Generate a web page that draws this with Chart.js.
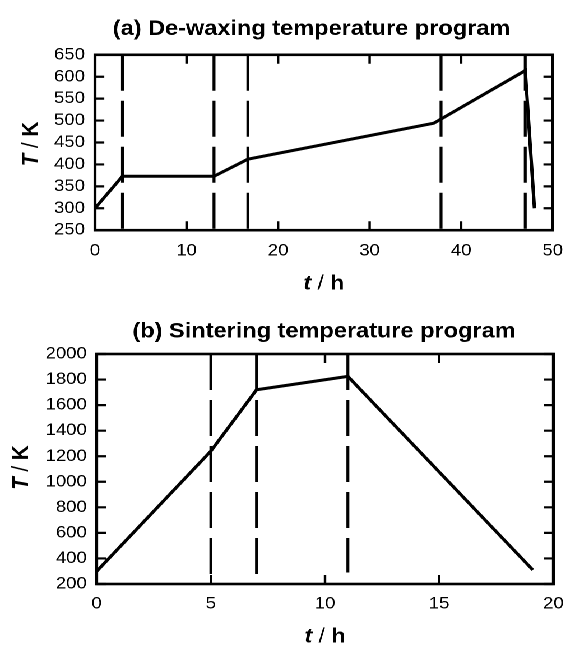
<!DOCTYPE html>
<html><head><meta charset="utf-8">
<script src="https://cdn.jsdelivr.net/npm/chart.js@4"></script>
<style>
html,body{margin:0;padding:0;background:#fff;overflow:hidden;width:575px;height:647px}
#wrap{position:absolute;left:0;top:0;width:513px;height:647px;transform-origin:0 0;transform:scaleX(1.12086)}
canvas{position:absolute;left:0}
#ca{top:0}
#cb{top:305px}
</style></head><body>
<div id="wrap"><canvas id="ca" width="513" height="305"></canvas><canvas id="cb" width="513" height="342"></canvas></div>
<script>
// ---- (a) De-waxing temperature program ----
const dewaxTime = [0, 3, 13, 16.7, 37, 47, 48];
const dewaxTemp = [300, 373, 373, 412, 494, 614, 300];
const dewaxStageTimes = [3, 13, 16.7, 37.8, 47];
const dewaxStageLow = [250, 250, 250, 250, 250];
const dewaxXTicks = [0, 10, 20, 30, 40, 50];
const dewaxYTicks = [250, 300, 350, 400, 450, 500, 550, 600, 650];

// ---- (b) Sintering temperature program ----
const sinterTime = [0, 5, 7, 11, 19.1];
const sinterTemp = [300, 1240, 1720, 1825, 310];
const sinterStageTimes = [5, 7, 11];
const sinterStageLow = [200, 200, 290];
const sinterXTicks = [0, 5, 10, 15, 20];
const sinterYTicks = [200, 400, 600, 800, 1000, 1200, 1400, 1600, 1800, 2000];

const FONT = '"Liberation Sans", Arial, Helvetica, sans-serif';

function drawMixed(ctx, parts, cx, cy, rot) {
  ctx.save();
  ctx.translate(cx, cy);
  ctx.rotate(rot);
  ctx.textBaseline = 'middle';
  ctx.textAlign = 'left';
  let total = 0;
  const w = parts.map(p => { ctx.font = p.f; const m = ctx.measureText(p.t).width; total += m; return m; });
  let x = -total / 2;
  parts.forEach((p, i) => { ctx.font = p.f; ctx.fillText(p.t, x, 0); x += w[i]; });
  ctx.restore();
}

const framePlugin = {
  id: 'frame',
  afterDraw(chart, args, o) {
    const ctx = chart.ctx, a = chart.chartArea, xs = chart.scales.x, ys = chart.scales.y;
    ctx.save();
    ctx.strokeStyle = '#000';
    ctx.lineWidth = o.tickWidth;
    ctx.beginPath();
    xs.ticks.forEach(t => {
      const p = xs.getPixelForValue(t.value);
      ctx.moveTo(p, a.bottom); ctx.lineTo(p, a.bottom - o.xTickLen);
      ctx.moveTo(p, a.top); ctx.lineTo(p, a.top + o.xTickLen);
    });
    ys.ticks.forEach(t => {
      const p = ys.getPixelForValue(t.value);
      ctx.moveTo(a.left, p); ctx.lineTo(a.left + o.yTickLen, p);
      ctx.moveTo(a.right, p); ctx.lineTo(a.right - o.yTickLen, p);
    });
    ctx.stroke();
    ctx.lineWidth = o.borderWidth;
    ctx.strokeRect(a.left, a.top, a.right - a.left, a.bottom - a.top);
    ctx.fillStyle = '#000';
    ctx.font = 'bold 21px ' + FONT;
    ctx.textAlign = 'center';
    ctx.textBaseline = 'alphabetic';
    ctx.fillText(o.title, (a.left + a.right) / 2 + o.titleDx, o.titleBaseline);
    const bi = 'italic bold 20.5px ' + FONT, r = '20.5px ' + FONT, b = 'bold 20.5px ' + FONT;
    drawMixed(ctx, [{t: 't', f: bi}, {t: ' / ', f: r}, {t: 'h', f: b}], (a.left + a.right) / 2, o.xTitleY, 0);
    drawMixed(ctx, [{t: 'T', f: bi}, {t: ' / ', f: r}, {t: 'K', f: b}], o.yTitleX, (a.top + a.bottom) / 2 + o.yTitleDy, -Math.PI / 2);
    ctx.restore();
  }
};

function makeChart(id, p) {
  const datasets = [{
    data: p.time.map((t, i) => ({x: t, y: p.temp[i]})),
    borderColor: '#000', borderWidth: 3, pointRadius: 0, tension: 0, borderCapStyle: 'butt'
  }];
  p.stages.forEach((t, i) => {
    datasets.push({
      data: [{x: t, y: p.yTicks[p.yTicks.length - 1]}, {x: t, y: p.stageLow[i]}],
      borderColor: '#000', borderWidth: 2.6, borderDash: [36, 10], pointRadius: 0, borderCapStyle: 'butt'
    });
  });
  return new Chart(document.getElementById(id), {
    type: 'line',
    data: {datasets},
    plugins: [framePlugin],
    options: {
      responsive: false,
      devicePixelRatio: 2,
      animation: false,
      layout: {padding: {top: p.padTop, left: 0, right: p.padRight, bottom: p.padBottom}},
      plugins: {
        legend: {display: false},
        tooltip: {enabled: false},
        title: {display: false},
        frame: {
          title: p.title, titleDx: p.titleDx, titleBaseline: p.titleBaseline,
          xTitleY: p.xTitleY, yTitleX: p.yTitleX, yTitleDy: p.yTitleDy,
          xTickLen: 9, yTickLen: 8.3, tickWidth: 2.2, borderWidth: 2.6
        }
      },
      scales: {
        x: {
          type: 'linear', position: 'bottom',
          min: p.xTicks[0], max: p.xTicks[p.xTicks.length - 1],
          afterBuildTicks: s => { s.ticks = p.xTicks.map(v => ({value: v})); },
          afterFit: s => { s.height = p.xAxisH; },
          grid: {display: false, drawTicks: false},
          border: {display: false},
          ticks: {color: '#000', padding: p.xLabelPad, autoSkip: false, maxRotation: 0,
                  callback: v => String(v), font: {family: FONT, size: 16.5}}
        },
        y: {
          type: 'linear',
          min: p.yTicks[0], max: p.yTicks[p.yTicks.length - 1],
          afterBuildTicks: s => { s.ticks = p.yTicks.map(v => ({value: v})); },
          afterFit: s => { s.width = p.yAxisW; },
          grid: {display: false, drawTicks: false},
          border: {display: false},
          ticks: {color: '#000', padding: p.yLabelPad, autoSkip: false,
                  callback: v => String(v), font: {family: FONT, size: 16.5}}
        }
      }
    }
  });
}

makeChart('ca', {
  time: dewaxTime, temp: dewaxTemp, stages: dewaxStageTimes, stageLow: dewaxStageLow,
  xTicks: dewaxXTicks, yTicks: dewaxYTicks,
  title: '(a) De-waxing temperature program', titleDx: -11, titleBaseline: 35,
  padTop: 54.8, padRight: 11.87, padBottom: 44.8, xAxisH: 30, yAxisW: 84.76,
  xLabelPad: 10.7, yLabelPad: 9, xTitleY: 284, yTitleX: 27.7, yTitleDy: 1.5
});

makeChart('cb', {
  time: sinterTime, temp: sinterTemp, stages: sinterStageTimes, stageLow: sinterStageLow,
  xTicks: sinterXTicks, yTicks: sinterYTicks,
  title: '(b) Sintering temperature program', titleDx: -0.9, titleBaseline: 32.5,
  padTop: 49, padRight: 10.44, padBottom: 33, xAxisH: 30, yAxisW: 86.27,
  xLabelPad: 10.1, yLabelPad: 8.9, xTitleY: 332, yTitleX: 19.4, yTitleDy: -1.4
});
</script>
</body></html>
